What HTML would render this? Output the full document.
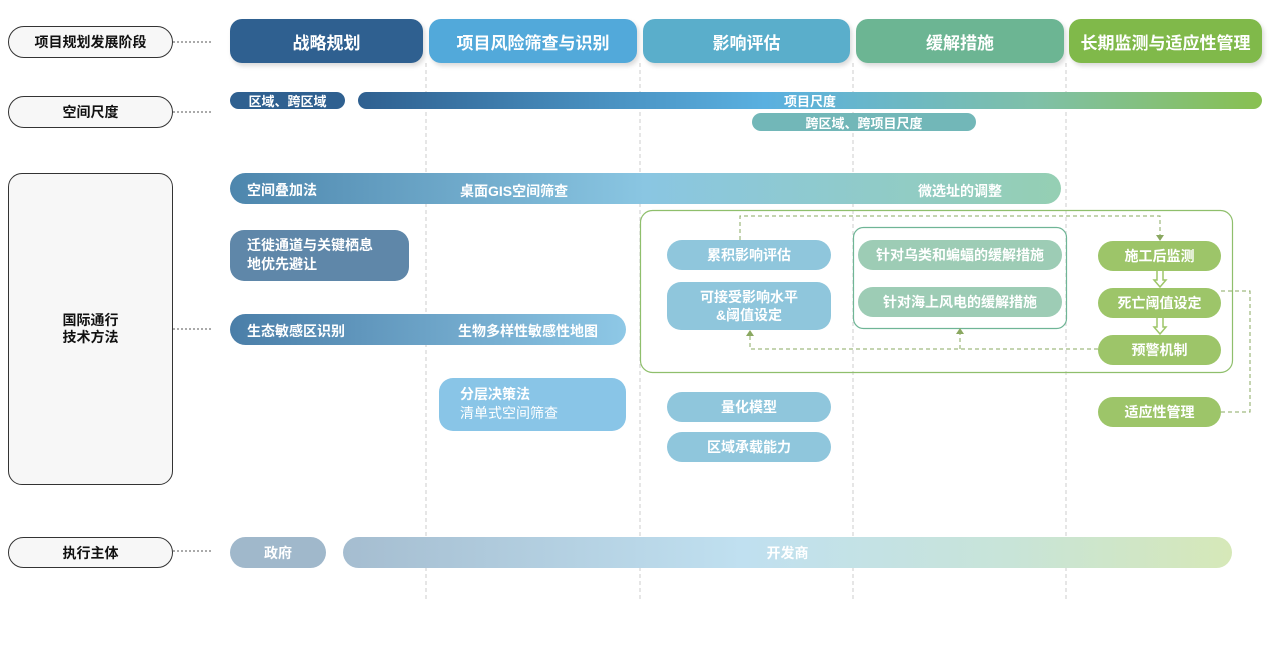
<!DOCTYPE html>
<html><head><meta charset="utf-8"><style>
body{margin:0;width:1280px;height:650px;background:#fff;position:relative;overflow:hidden;font-family:"Liberation Sans","Noto Sans CJK SC",sans-serif;}
.a{position:absolute;box-sizing:border-box;}
.lbl{border:1px solid #333;border-radius:16px;background:#f7f7f7;display:flex;align-items:center;justify-content:center;font-weight:bold;font-size:14px;color:#111;}
.w{color:#fff;font-weight:bold;display:flex;align-items:center;justify-content:center;font-size:14px;}
.ph{border-radius:12px;font-size:17px;box-shadow:2px 3px 5px rgba(0,0,0,.15);}
.p{border-radius:16px;}
.t{position:absolute;color:#fff;font-weight:bold;font-size:14px;}
</style></head><body>
<svg class="a" style="left:0;top:0" width="1280" height="650">
<g stroke="#ccc" stroke-dasharray="4,3" stroke-width="1">
<line x1="426" y1="63" x2="426" y2="600"/><line x1="640" y1="63" x2="640" y2="600"/>
<line x1="853" y1="63" x2="853" y2="600"/><line x1="1066" y1="63" x2="1066" y2="600"/></g>
<g stroke="#555" stroke-dasharray="2,2" stroke-width="1">
<line x1="173" y1="42" x2="212" y2="42"/><line x1="173" y1="112" x2="212" y2="112"/>
<line x1="173" y1="329" x2="212" y2="329"/><line x1="173" y1="551" x2="212" y2="551"/></g>
<rect x="640.5" y="210.5" width="592" height="162" rx="12" fill="none" stroke="#8fbf6c" stroke-width="1.2"/>
<rect x="853.5" y="227.5" width="213" height="101" rx="10" fill="none" stroke="#6fb596" stroke-width="1.2"/>
<g stroke="#8aa860" stroke-dasharray="4,3" fill="none" stroke-width="1">
<polyline points="740,240 740,216 1160,216 1160,238"/>
<polyline points="1098,349 750,349 750,335"/>
<line x1="960" y1="349" x2="960" y2="333"/>
<polyline points="1221,291 1250,291 1250,412 1221,412"/></g>
<g fill="#8aa860"><polygon points="1156,235 1164,235 1160,241"/><polygon points="746,336 754,336 750,330"/><polygon points="956,334 964,334 960,328"/></g>
<g fill="none" stroke="#9dc569" stroke-width="1.5"><path d="M1157,271 v9 h-3 l6,7 l6,-7 h-3 v-9"/><path d="M1157,318 v9 h-3 l6,7 l6,-7 h-3 v-9"/></g>
</svg>
<div class="a lbl" style="left:8px;top:26px;width:165px;height:32px">项目规划发展阶段</div>
<div class="a lbl" style="left:8px;top:96px;width:165px;height:32px">空间尺度</div>
<div class="a lbl" style="left:8px;top:173px;width:165px;height:312px;border-radius:14px;line-height:17px;text-align:center">国际通行<br>技术方法</div>
<div class="a lbl" style="left:8px;top:537px;width:165px;height:31px">执行主体</div>

<div class="a w ph" style="left:230px;top:19px;width:193px;height:44px;background:#2f6090">战略规划</div>
<div class="a w ph" style="left:429px;top:19px;width:208px;height:44px;background:#52a9da">项目风险筛查与识别</div>
<div class="a w ph" style="left:643px;top:19px;width:207px;height:44px;background:#5aaecb">影响评估</div>
<div class="a w ph" style="left:856px;top:19px;width:208px;height:44px;background:#6cb593">缓解措施</div>
<div class="a w ph" style="left:1069px;top:19px;width:193px;height:44px;background:#80b94a">长期监测与适应性管理</div>

<div class="a w p" style="left:230px;top:92px;width:115px;height:17px;background:#2f6090;font-size:13px">区域、跨区域</div>
<div class="a w p" style="left:358px;top:92px;width:904px;height:17px;background:linear-gradient(90deg,#2f6090,#5ab0e0 45%,#7fc0a8 75%,#88c050);font-size:13px">项目尺度</div>
<div class="a w p" style="left:752px;top:113px;width:224px;height:18px;background:#72b7b8;font-size:13px">跨区域、跨项目尺度</div>

<div class="a p" style="left:230px;top:173px;width:831px;height:31px;background:linear-gradient(90deg,#4d86ad,#8ac6e2 50%,#95cfb3)"></div>
<span class="t" style="left:247px;top:180px">空间叠加法</span>
<span class="t" style="left:460px;top:181px">桌面GIS空间筛查</span>
<span class="t" style="left:918px;top:181px">微选址的调整</span>

<div class="a" style="left:230px;top:230px;width:179px;height:51px;border-radius:14px;background:#5f87a9"></div>
<span class="t" style="left:247px;top:236px;line-height:19px">迁徙通道与关键栖息<br>地优先避让</span>

<div class="a p" style="left:230px;top:314px;width:396px;height:31px;background:linear-gradient(90deg,#4a7ea8,#8ec8e6)"></div>
<span class="t" style="left:247px;top:321px">生态敏感区识别</span>
<span class="t" style="left:458px;top:321px">生物多样性敏感性地图</span>

<div class="a" style="left:439px;top:378px;width:187px;height:53px;border-radius:14px;background:#89c5e7"></div>
<span class="t" style="left:460px;top:385px;line-height:19px">分层决策法<br><span style="font-weight:normal">清单式空间筛查</span></span>

<div class="a w p" style="left:667px;top:240px;width:164px;height:30px;background:#8fc6dc">累积影响评估</div>
<div class="a w" style="left:667px;top:282px;width:164px;height:48px;border-radius:14px;background:#8fc6dc;line-height:18px;text-align:center">可接受影响水平<br>&amp;阈值设定</div>
<div class="a w p" style="left:858px;top:240px;width:204px;height:30px;background:#9dccb5">针对乌类和蝙蝠的缓解措施</div>
<div class="a w p" style="left:858px;top:287px;width:204px;height:30px;background:#9dccb5">针对海上风电的缓解措施</div>
<div class="a w p" style="left:1098px;top:241px;width:123px;height:30px;background:#9dc569">施工后监测</div>
<div class="a w p" style="left:1098px;top:288px;width:123px;height:30px;background:#9dc569">死亡阈值设定</div>
<div class="a w p" style="left:1098px;top:335px;width:123px;height:30px;background:#9dc569">预警机制</div>
<div class="a w p" style="left:1098px;top:397px;width:123px;height:30px;background:#9dc569">适应性管理</div>
<div class="a w p" style="left:667px;top:392px;width:164px;height:30px;background:#8fc6dc">量化模型</div>
<div class="a w p" style="left:667px;top:432px;width:164px;height:30px;background:#8fc6dc">区域承载能力</div>

<div class="a w p" style="left:230px;top:537px;width:96px;height:31px;background:#a0b8cb">政府</div>
<div class="a w p" style="left:343px;top:537px;width:889px;height:31px;background:linear-gradient(90deg,#a5bdd0,#c0e0f0 45%,#c8e4d8 75%,#d6e8b8)">开发商</div>
</body></html>
